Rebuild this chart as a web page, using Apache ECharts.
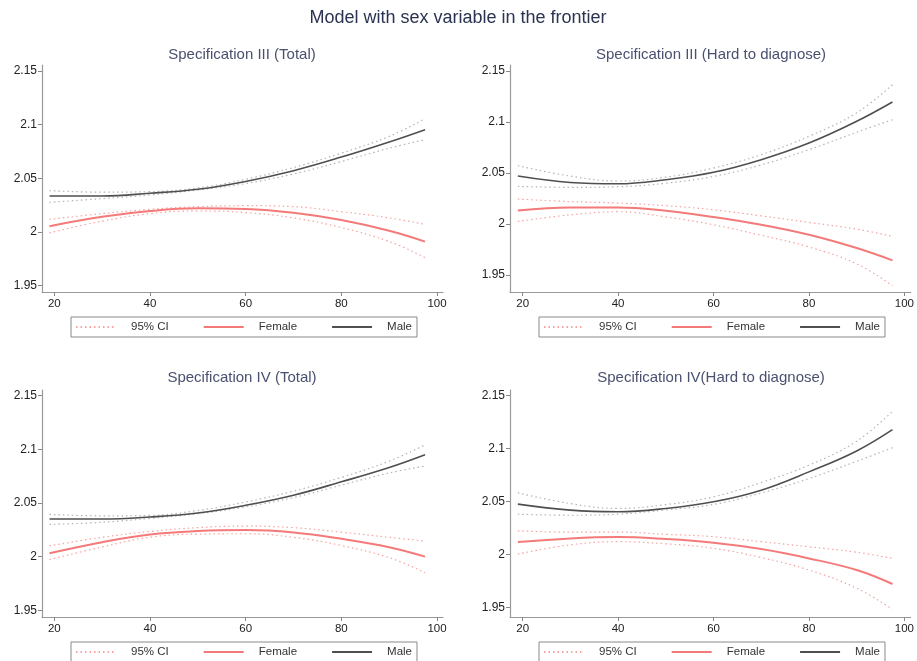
<!DOCTYPE html>
<html lang="en">
<head>
	<meta charset="UTF-8">
	<title>Model with sex variable in the frontier</title>
	<style>
		html, body { margin: 0; padding: 0; background: #fff; }
		#box { width: 917px; height: 661px; }
	</style>
</head>
<body>
	<div id="box"></div>
	<script src="https://cdn.jsdelivr.net/npm/echarts@6/dist/echarts.min.js"></script>
	<script>
		var ages = [19, 30, 40, 50, 60, 70, 80, 90, 97.5];
		var xTicks = [20, 40, 60, 80, 100];
		var yTicks = [1.95, 2, 2.05, 2.1, 2.15];
		var mainTitle = 'Model with sex variable in the frontier';
		var panelTitles = ['Specification III (Total)', 'Specification III (Hard to diagnose)',
			'Specification IV (Total)', 'Specification IV(Hard to diagnose)'];

		// Specification III (Total)
		var p1Male = [2.0334, 2.0334, 2.036, 2.0397, 2.047, 2.057, 2.0697, 2.0838, 2.0953];
		var p1MaleHi = [2.0384, 2.037, 2.0375, 2.041, 2.049, 2.060, 2.0734, 2.089, 2.1056];
		var p1MaleLo = [2.0275, 2.031, 2.0344, 2.039, 2.045, 2.054, 2.0656, 2.078, 2.086];
		var p1Female = [2.0053, 2.014, 2.0194, 2.0219, 2.0213, 2.0178, 2.011, 2.001, 1.9909];
		var p1FemaleHi = [2.0116, 2.017, 2.021, 2.0235, 2.0244, 2.0235, 2.0188, 2.013, 2.0069];
		var p1FemaleLo = [1.999, 2.010, 2.017, 2.0195, 2.018, 2.013, 2.004, 1.991, 1.976];

		// Specification III (Hard to diagnose)
		var p2Male = [2.0471, 2.0408, 2.0395, 2.0435, 2.0507, 2.0631, 2.0794, 2.1007, 2.1196];
		var p2MaleHi = [2.0572, 2.047, 2.0422, 2.046, 2.0549, 2.068, 2.086, 2.109, 2.1366];
		var p2MaleLo = [2.0369, 2.036, 2.0366, 2.040, 2.0467, 2.058, 2.0729, 2.090, 2.1023];
		var p2Female = [2.0134, 2.0163, 2.0163, 2.013, 2.0069, 1.9993, 1.9895, 1.9765, 1.9644];
		var p2FemaleHi = [2.0245, 2.022, 2.0206, 2.018, 2.014, 2.008, 2.0016, 1.995, 1.9879];
		var p2FemaleLo = [2.0026, 2.009, 2.0121, 2.007, 1.9993, 1.989, 1.9775, 1.961, 1.9395];

		// Specification IV (Total)
		var p3Male = [2.035, 2.035, 2.0369, 2.0406, 2.0478, 2.0572, 2.0697, 2.0831, 2.095];
		var p3MaleHi = [2.0394, 2.038, 2.0384, 2.043, 2.0509, 2.061, 2.0738, 2.089, 2.1041];
		var p3MaleLo = [2.030, 2.032, 2.0356, 2.040, 2.0463, 2.055, 2.0666, 2.078, 2.0844];
		var p3Female = [2.0031, 2.0134, 2.0206, 2.0238, 2.0247, 2.0225, 2.0166, 2.0088, 2.0];
		var p3FemaleHi = [2.010, 2.018, 2.0234, 2.027, 2.0284, 2.027, 2.0228, 2.018, 2.0144];
		var p3FemaleLo = [1.9972, 2.009, 2.0181, 2.021, 2.0213, 2.018, 2.0103, 1.999, 1.985];

		// Specification IV (Hard to diagnose)
		var p4Male = [2.0475, 2.0418, 2.0403, 2.0434, 2.0497, 2.0607, 2.078, 2.0978, 2.1179];
		var p4MaleHi = [2.0582, 2.048, 2.0434, 2.047, 2.0544, 2.068, 2.0843, 2.107, 2.1352];
		var p4MaleLo = [2.038, 2.037, 2.038, 2.042, 2.0472, 2.058, 2.0717, 2.088, 2.1009];
		var p4Female = [2.0116, 2.0151, 2.0164, 2.0145, 2.011, 2.005, 1.9962, 1.9852, 1.972];
		var p4FemaleHi = [2.0223, 2.021, 2.0211, 2.019, 2.0167, 2.012, 2.0072, 2.002, 1.9962];
		var p4FemaleLo = [2.0003, 2.009, 2.012, 2.010, 2.0057, 1.997, 1.9852, 1.968, 1.9481];

		var panels = [
			{ male: p1Male, maleHi: p1MaleHi, maleLo: p1MaleLo, female: p1Female, femaleHi: p1FemaleHi, femaleLo: p1FemaleLo },
			{ male: p2Male, maleHi: p2MaleHi, maleLo: p2MaleLo, female: p2Female, femaleHi: p2FemaleHi, femaleLo: p2FemaleLo },
			{ male: p3Male, maleHi: p3MaleHi, maleLo: p3MaleLo, female: p3Female, femaleHi: p3FemaleHi, femaleLo: p3FemaleLo },
			{ male: p4Male, maleHi: p4MaleHi, maleLo: p4MaleLo, female: p4Female, femaleHi: p4FemaleHi, femaleLo: p4FemaleLo }
		];

		// plot area placement, axis extents
		var layout = [
			{ left: 42, top: 65, width: 401, height: 227, xMin: 17.43, xMax: 101.25, yMin: 1.9439, yMax: 2.1556, titleX: 242, titleY: 47, legX: 71, legY: 317 },
			{ left: 510, top: 65, width: 402, height: 227, xMin: 17.35, xMax: 101.32, yMin: 1.9334, yMax: 2.1559, titleX: 711, titleY: 47, legX: 539, legY: 317 },
			{ left: 42, top: 390, width: 401, height: 227, xMin: 17.43, xMax: 101.25, yMin: 1.9437, yMax: 2.1553, titleX: 242, titleY: 370, legX: 71, legY: 642 },
			{ left: 510, top: 390, width: 402, height: 227, xMin: 17.35, xMax: 101.32, yMin: 1.9408, yMax: 2.1554, titleX: 711, titleY: 370, legX: 539, legY: 642 }
		];

		var FONT = '"Liberation Sans", Arial, sans-serif';
		var FEMALE = '#f47a7a';
		var MALE = '#4f4f4f';
		var FEMALE_CI = '#f6a3a3';
		var MALE_CI = '#b4b4b4';

		function pairs(ys) {
			return ages.map(function(a, i) { return [a, ys[i]]; });
		}

		var option = {
			backgroundColor: '#fff',
			animation: false,
			title: [{
				text: mainTitle, left: 458, top: 9, textAlign: 'center', padding: 0,
				textStyle: { fontFamily: FONT, fontSize: 18, fontWeight: 'normal', color: '#2a3352' }
			}],
			grid: [], xAxis: [], yAxis: [], legend: [], series: []
		};

		layout.forEach(function(L, k) {
			var p = panels[k];
			option.title.push({
				text: panelTitles[k], left: L.titleX, top: L.titleY, textAlign: 'center', padding: 0,
				textStyle: { fontFamily: FONT, fontSize: 15, fontWeight: 'normal', color: '#4a5070' }
			});
			option.grid.push({ left: L.left, top: L.top, width: L.width, height: L.height, containLabel: false });
			option.xAxis.push({
				type: 'value', gridIndex: k, min: L.xMin, max: L.xMax,
				splitLine: { show: false },
				axisLine: { lineStyle: { color: '#999', width: 1.2 } },
				axisTick: { customValues: xTicks, length: 4, lineStyle: { color: '#888' } },
				axisLabel: { customValues: xTicks, fontFamily: FONT, fontSize: 11.5, color: '#222', margin: 6 }
			});
			option.yAxis.push({
				type: 'value', gridIndex: k, min: L.yMin, max: L.yMax,
				splitLine: { show: false },
				axisLine: { show: true, lineStyle: { color: '#999', width: 1.2 } },
				axisTick: { show: true, customValues: yTicks, length: 4, lineStyle: { color: '#888' } },
				axisLabel: { customValues: yTicks, fontFamily: FONT, fontSize: 12, color: '#222', margin: 5 }
			});
			option.legend.push({
				left: L.legX, top: L.legY, orient: 'horizontal',
				data: ['95% CI', 'Female', 'Male'],
				itemWidth: 40, itemHeight: 12, itemGap: 34,
				padding: [4, 5, 4, 4],
				borderColor: '#8a8a8a', borderWidth: 1, borderRadius: 0,
				selectedMode: false,
				itemStyle: { color: 'rgba(0,0,0,0)', borderWidth: 0, opacity: 0 },
				textStyle: { fontFamily: FONT, fontSize: 11.5, color: '#333', padding: [0, 0, 0, 10] }
			});

			function line(name, ys, color, width, type, z) {
				option.series.push({
					name: name, type: 'line', xAxisIndex: k, yAxisIndex: k,
					data: pairs(ys), smooth: 0.4, symbol: 'none', z: z,
					lineStyle: { color: color, width: width, type: type },
					itemStyle: { color: color },
					emphasis: { disabled: true }
				});
			}
			line('95% CI', p.femaleHi, FEMALE_CI, 1.2, [1.5, 3], 2);
			line('95% CI', p.femaleLo, FEMALE_CI, 1.2, [1.5, 3], 2);
			line('95% CI', p.maleHi, MALE_CI, 1.2, [1.5, 3], 2);
			line('95% CI', p.maleLo, MALE_CI, 1.2, [1.5, 3], 2);
			line('Female', p.female, FEMALE, 2, 'solid', 3);
			line('Male', p.male, MALE, 1.6, 'solid', 4);
		});

		var myChart = echarts.init(document.getElementById('box'), null, { renderer: 'canvas' });
		myChart.setOption(option);
	</script>
</body>
</html>
